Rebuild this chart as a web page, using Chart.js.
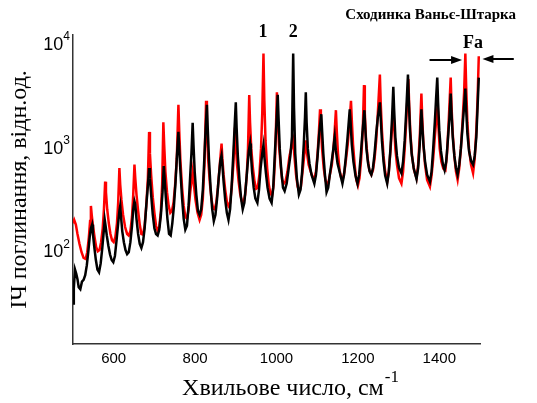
<!DOCTYPE html>
<html>
<head>
<meta charset="utf-8">
<script src="https://cdn.jsdelivr.net/npm/chart.js@4"></script>
<style>
  html, body { margin: 0; padding: 0; background: #fff; }
  #wrap { width: 537px; height: 403px; }
</style>
</head>
<body>
<div id="wrap"><canvas id="myChart" width="537" height="403"></canvas></div>
<script>
// wavenumbers (cm-1) and absorbance
const redWn = [500, 503, 507, 511, 516, 521, 526, 531, 535, 539, 542, 544, 546, 549, 553, 557, 561, 565, 569, 573,
  576, 579, 581, 584, 588, 592, 596, 600, 604, 608, 611, 614, 616, 619, 623, 628, 633, 637, 641, 645,
  648, 651, 653, 656, 660, 664, 668, 672, 676, 680, 684, 687, 689, 692, 696, 700, 704, 708, 712, 716,
  719, 722, 724, 727, 731, 735, 739, 743, 747, 751, 755, 759, 761, 764, 768, 772, 776, 780, 784, 788,
  791, 794, 797, 801, 806, 811, 815, 819, 823, 827, 829, 832, 836, 840, 844, 848, 852, 856, 860, 865,
  867, 870, 874, 878, 882, 886, 890, 894, 898, 900, 903, 907, 911, 915, 919, 923, 927, 930, 933, 935,
  938, 942, 946, 950, 954, 958, 962, 965, 968, 970, 973, 977, 981, 985, 989, 993, 997, 1001, 1003, 1006,
  1010, 1014, 1018, 1022, 1027, 1032, 1036, 1041, 1044, 1048, 1052, 1056, 1060, 1064, 1068, 1072, 1075, 1079, 1084, 1089,
  1093, 1097, 1101, 1104, 1107, 1109, 1112, 1116, 1120, 1124, 1128, 1132, 1136, 1140, 1143, 1146, 1148, 1151, 1155, 1159,
  1163, 1167, 1171, 1175, 1179, 1183, 1185, 1188, 1192, 1196, 1200, 1204, 1208, 1212, 1215, 1217, 1220, 1224, 1228, 1233,
  1237, 1241, 1245, 1249, 1254, 1256, 1259, 1263, 1267, 1272, 1276, 1280, 1284, 1287, 1289, 1292, 1296, 1301, 1307, 1311,
  1315, 1319, 1324, 1326, 1329, 1333, 1338, 1344, 1348, 1352, 1356, 1358, 1361, 1365, 1370, 1377, 1381, 1385, 1389, 1393,
  1396, 1398, 1401, 1405, 1410, 1415, 1419, 1423, 1428, 1430, 1433, 1437, 1441, 1445, 1449, 1453, 1457, 1461, 1464, 1466,
  1469, 1473, 1478, 1483, 1487, 1491, 1494, 1497];
const redVal = [190, 205, 185, 150, 120, 100, 88, 86, 100, 140, 200, 280, 230, 180, 140, 112, 102, 105, 125, 170,
  260, 480, 380, 260, 190, 150, 130, 125, 140, 190, 300, 650, 450, 320, 230, 175, 150, 145, 160, 220,
  360, 700, 520, 360, 250, 185, 150, 148, 180, 280, 520, 1450, 900, 560, 340, 240, 180, 160, 175, 250,
  450, 1800, 1100, 600, 380, 280, 240, 250, 300, 450, 800, 2650, 1500, 750, 420, 280, 220, 210, 260, 380,
  480, 600, 450, 320, 240, 205, 230, 330, 700, 2900, 1600, 800, 480, 330, 265, 260, 300, 420, 650, 1120,
  800, 560, 400, 310, 280, 300, 420, 700, 1600, 1100, 700, 480, 360, 310, 300, 360, 560, 1000, 3300, 1800,
  1000, 650, 480, 410, 420, 560, 1000, 2200, 8300, 3000, 1200, 650, 450, 370, 350, 450, 900, 3500, 2000, 1100,
  700, 500, 460, 480, 600, 850, 1000, 1200, 850, 560, 430, 390, 430, 600, 850, 1200, 900, 700, 600, 530,
  510, 600, 900, 1400, 2400, 1600, 1000, 650, 500, 450, 480, 580, 700, 1000, 1500, 2350, 1500, 900, 620, 520,
  510, 600, 800, 1100, 1700, 2900, 1900, 1100, 700, 500, 440, 520, 800, 1500, 4100, 2200, 1200, 800, 620, 560,
  620, 800, 1200, 2200, 5200, 2800, 1500, 850, 600, 480, 600, 950, 1600, 2550, 1700, 1000, 700, 520, 460, 600,
  1000, 1900, 4700, 2600, 1400, 850, 620, 520, 700, 1300, 3400, 2000, 1100, 700, 500, 430, 550, 800, 1300, 2000,
  2600, 1600, 1000, 750, 640, 620, 900, 1800, 4850, 2600, 1400, 850, 600, 500, 650, 1000, 1800, 3500, 8300, 4000,
  1800, 1000, 700, 580, 800, 1500, 3000, 7800];

const blackWn = [500, 502, 505, 508, 511, 514, 518, 522, 526, 530, 534, 538, 541, 544, 547, 549, 552, 556, 560, 564,
  568, 572, 575, 578, 580, 583, 587, 591, 595, 599, 603, 607, 611, 614, 616, 618, 621, 625, 629, 633,
  637, 641, 645, 648, 651, 653, 656, 660, 664, 668, 672, 676, 680, 684, 687, 689, 692, 696, 700, 704,
  708, 712, 716, 720, 723, 725, 728, 732, 736, 740, 744, 748, 752, 755, 759, 761, 764, 768, 772, 776,
  780, 784, 788, 791, 794, 796, 799, 803, 807, 811, 815, 819, 822, 825, 829, 831, 834, 838, 842, 846,
  850, 854, 858, 862, 865, 867, 870, 874, 878, 882, 886, 890, 894, 897, 900, 902, 905, 909, 913, 917,
  921, 925, 929, 932, 935, 937, 940, 944, 948, 953, 957, 961, 965, 968, 970, 974, 978, 983, 988, 992,
  996, 1000, 1003, 1005, 1008, 1012, 1016, 1020, 1025, 1030, 1034, 1038, 1041, 1043, 1046, 1050, 1055, 1059, 1063, 1067,
  1070, 1072, 1074, 1077, 1081, 1086, 1093, 1097, 1101, 1105, 1110, 1112, 1115, 1119, 1123, 1127, 1131, 1135, 1139, 1143,
  1146, 1150, 1155, 1162, 1166, 1170, 1174, 1177, 1180, 1182, 1185, 1189, 1194, 1199, 1203, 1207, 1211, 1216, 1218, 1221,
  1225, 1229, 1233, 1237, 1241, 1245, 1249, 1254, 1256, 1259, 1263, 1267, 1272, 1276, 1280, 1284, 1287, 1289, 1292, 1296,
  1301, 1307, 1311, 1315, 1319, 1323, 1325, 1328, 1332, 1337, 1344, 1348, 1352, 1356, 1358, 1361, 1365, 1370, 1377, 1381,
  1385, 1389, 1392, 1395, 1397, 1400, 1404, 1409, 1413, 1417, 1421, 1425, 1428, 1430, 1433, 1437, 1441, 1445, 1449, 1453,
  1457, 1461, 1464, 1466, 1469, 1473, 1478, 1483, 1487, 1491, 1494, 1497];
const blackVal = [32, 45, 68, 62, 55, 46, 44, 52, 54, 60, 75, 105, 140, 170, 185, 150, 115, 85, 68, 64,
  78, 110, 150, 205, 180, 145, 115, 95, 84, 80, 92, 130, 190, 250, 280, 220, 160, 125, 105, 96,
  100, 125, 180, 260, 310, 290, 210, 150, 120, 110, 125, 170, 280, 440, 650, 520, 360, 230, 170, 150,
  145, 165, 230, 380, 680, 520, 340, 210, 150, 145, 190, 280, 480, 800, 1450, 1000, 600, 330, 210, 165,
  180, 280, 550, 900, 1780, 1100, 600, 360, 250, 230, 260, 400, 700, 1300, 2650, 1600, 800, 420, 260, 200,
  230, 330, 520, 760, 860, 700, 480, 320, 240, 205, 260, 450, 900, 1600, 2800, 1600, 850, 500, 330, 260,
  300, 450, 700, 950, 1120, 900, 600, 420, 330, 300, 400, 650, 900, 1080, 850, 580, 420, 330, 300, 420,
  900, 1800, 3300, 2000, 1000, 600, 420, 390, 460, 650, 850, 1300, 8300, 2500, 900, 520, 360, 400, 600, 1100,
  2000, 3500, 1800, 1000, 720, 560, 460, 560, 850, 1400, 2150, 1500, 900, 560, 380, 420, 560, 720, 950, 1300,
  950, 720, 600, 460, 560, 800, 1200, 1700, 2400, 1800, 1100, 750, 550, 460, 560, 850, 1400, 2350, 1600, 1000,
  720, 600, 560, 650, 900, 1400, 2000, 2800, 2000, 1200, 750, 550, 460, 600, 1000, 2000, 3950, 2400, 1300, 850,
  650, 580, 750, 1200, 2400, 5200, 3000, 1500, 900, 650, 510, 650, 1100, 2400, 1700, 1100, 750, 560, 480, 600,
  1000, 1800, 3000, 4850, 2800, 1500, 950, 700, 620, 750, 1200, 2000, 3400, 2200, 1300, 850, 650, 560, 700, 1000,
  1600, 2600, 3800, 2400, 1400, 950, 760, 700, 850, 1300, 2500, 4850];

const xTicks = [600, 800, 1000, 1200, 1400];
const yTicks = [100, 1000, 10000];

function toPoints(xs, ys) {
  return xs.map((x, i) => ({ x: x, y: ys[i] }));
}

// y tick labels with real superscripts, x title, labels "1", "2", "Fa", arrows, caption
const notesPlugin = {
  id: "notes",
  afterDraw(chart) {
    const ctx = chart.ctx;
    const xs = chart.scales.x;
    const ys = chart.scales.y;
    ctx.save();
    ctx.fillStyle = "#000";
    ctx.strokeStyle = "#000";

    // y tick labels: 10 with the exponent raised
    ctx.textBaseline = "middle";
    ys.ticks.forEach((t) => {
      const y = ys.getPixelForValue(t.value);
      const exp = String(Math.round(Math.log10(t.value)));
      ctx.font = "12px 'Liberation Sans'";
      const ew = ctx.measureText(exp).width;
      ctx.textAlign = "left";
      ctx.fillText(exp, 70 - ew, y - 8);
      ctx.font = "18px 'Liberation Sans'";
      ctx.textAlign = "right";
      ctx.fillText("10", 70 - ew, y);
    });

    // x axis title with superscript -1
    const main = "Хвильове число, см";
    const supTxt = "-1";
    ctx.font = "24px 'Liberation Serif'";
    const mw = ctx.measureText(main).width;
    ctx.font = "17px 'Liberation Serif'";
    const sw = ctx.measureText(supTxt).width;
    const x0 = 290 - (mw + sw) / 2;
    ctx.textAlign = "left";
    ctx.textBaseline = "alphabetic";
    ctx.font = "24px 'Liberation Serif'";
    ctx.fillText(main, x0, 395);
    ctx.font = "17px 'Liberation Serif'";
    ctx.fillText(supTxt, x0 + mw + 1, 382);

    ctx.textAlign = "right";
    ctx.textBaseline = "middle";
    ctx.font = "bold 15px 'Liberation Serif'";
    ctx.fillText("Сходинка Ваньє-Штарка", 516, 15);

    ctx.textAlign = "center";
    ctx.font = "bold 18px 'Liberation Serif'";
    ctx.fillText("1", xs.getPixelForValue(967), 32);
    ctx.fillText("2", xs.getPixelForValue(1041), 32);
    ctx.fillText("Fa", xs.getPixelForValue(1483), 43);

    function arrow(x1, x2, y) {
      const dir = x2 > x1 ? 1 : -1;
      ctx.lineWidth = 2;
      ctx.beginPath();
      ctx.moveTo(x1, y);
      ctx.lineTo(x2 - dir * 8, y);
      ctx.stroke();
      ctx.beginPath();
      ctx.moveTo(x2, y);
      ctx.lineTo(x2 - dir * 11, y - 4);
      ctx.lineTo(x2 - dir * 11, y + 4);
      ctx.closePath();
      ctx.fill();
    }
    arrow(xs.getPixelForValue(1376), xs.getPixelForValue(1456), 60);
    arrow(xs.getPixelForValue(1583), xs.getPixelForValue(1506), 59);
    ctx.restore();
  }
};

window.onload = () => {
  const ctx = document.getElementById("myChart").getContext("2d");

  new Chart(ctx, {
    type: "line",
    data: {
      datasets: [
        {
          label: "black",
          data: toPoints(blackWn, blackVal),
          borderColor: "#000000",
          borderWidth: 2.5,
          pointRadius: 0,
          tension: 0,
          fill: false,
        },
        {
          label: "red",
          data: toPoints(redWn, redVal),
          borderColor: "#ff0000",
          borderWidth: 2.5,
          pointRadius: 0,
          tension: 0,
          fill: false,
        },
      ],
    },
    options: {
      responsive: false,
      animation: false,
      events: [],
      layout: { padding: { left: 0, right: 57, top: 35, bottom: 0 } },
      plugins: {
        legend: { display: false },
        tooltip: { enabled: false },
      },
      scales: {
        x: {
          type: "linear",
          min: 500,
          max: 1500,
          grid: { display: false },
          border: { display: true, color: "#333", width: 1.5 },
          afterBuildTicks: (scale) => {
            scale.ticks = xTicks.map((v) => ({ value: v }));
          },
          afterFit: (scale) => {
            scale.height = 59;
          },
          ticks: {
            autoSkip: false,
            maxRotation: 0,
            padding: -2,
            color: "#000",
            font: { family: "'Liberation Sans'", size: 15 },
            callback: (value) => String(value),
          },
        },
        y: {
          type: "logarithmic",
          min: 13,
          max: 12500,
          grid: { display: false },
          border: { display: true, color: "#333", width: 1.5 },
          afterBuildTicks: (scale) => {
            scale.ticks = yTicks.map((v) => ({ value: v }));
          },
          afterFit: (scale) => {
            scale.width = 73;
          },
          ticks: { display: false },
          title: {
            display: true,
            text: "ІЧ поглинання, відн.од.",
            color: "#000",
            font: { family: "'Liberation Serif'", size: 24 },
            padding: { top: 5, bottom: 0 },
          },
        },
      },
    },
    plugins: [notesPlugin],
  });
};
</script>
</body>
</html>
